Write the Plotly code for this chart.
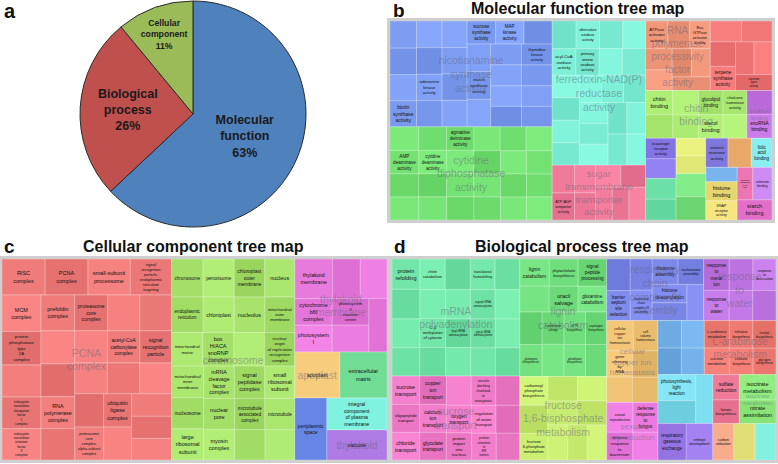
import plotly.graph_objects as go

W, H = 778, 464
FONT = "Liberation Sans, Arial, sans-serif"

# ---------------- Panel a: pie ----------------
pie_labels = ["Molecular function", "Biological process", "Cellular component"]
pie_values = [63, 26, 11]
pie_text = ["<b>Molecular<br>function<br>63%</b>", "<b>Biological<br>process<br>26%</b>",
            "<b>Cellular<br>component<br>11%</b>"]
pie_colors = ["#4f81bd", "#c0504d", "#9bbb59"]

# ---------------- Panel b: Molecular function ----------------
b_big = ["nicotianamine<br>synthase<br>activity", "cytidine<br>diphosphatase<br>activity",
         "ferredoxin-NAD(P)<br>reductase<br>activity", "sugar<br>transmembrane<br>transporter<br>activity",
         "RNA<br>polymerase<br>processivity<br>factor<br>activity", "", "chitin<br>binding",
         "snoRNA<br>binding", "", "", "", "", "", "", "", "", "", "", "", ""]
b_colors = ["#7d9df2", "#74e272", "#7ef0d8", "#f07a9a", "#f0977a", "#f07678", "#abeb72",
            "#c878e6", "#8a7aea", "#6ce0a8", "#e6ec7a", "#7ae27e", "#7c74d8", "#eeb070",
            "#80e6e8", "#7ab4ee", "#f0e07a", "#f07ab8", "#c282ea", "#f07cd8"]
b_leaf_labels = [
    ["", "", "", "biotin<br>synthase<br>activity", "", "", "adenosine<br>kinase<br>activity", "", "",
     "", "", "", "sucrose<br>synthase<br>activity", "MAP<br>kinase<br>activity", "", "",
     "starch<br>synthase<br>activity", "", "", "thymidine<br>kinase<br>activity", "", "", "", "", "", ""],
    ["", "AMP<br>deaminase<br>activity", "", "", "", "cytidine<br>deaminase<br>activity", "", "",
     "agmatine<br>deiminase<br>activity", "", "", "", "", "", "", "", "", "", "", "", "", "", "", ""],
    ["", "alternative<br>oxidase<br>activity", "", "", "acyl-CoA<br>oxidase<br>activity",
     "primary<br>amine<br>oxidase<br>activity", "", "", "", "", "", "", "", "", "", "", "", "", "", "",
     "", ""],
    ["", "ATP:ADP<br>antiporter<br>activity", "", "", "", "", "", "", ""],
    ["ATPase<br>activator<br>activity", "", "Ras<br>GTPase<br>activator<br>activity", "", "", "", "", ""],
    ["", "", "", "terpene<br>synthase<br>activity", "", "", "isocitrate<br>lyase<br>activity"],
    ["chitin<br>binding", "", "", "", "glycolipid<br>binding", "sterol<br>binding",
     "chalcone<br>isomerase<br>activity", ""],
    ["", "snoRNA<br>binding"],
    ["scavenger<br>receptor<br>activity", ""],
    ["", ""],
    ["", ""],
    ["", ""],
    ["nutrient<br>reservoir<br>activity"],
    [""],
    ["folic<br>acid<br>binding"],
    [""],
    ["histone<br>binding", "SNAP<br>receptor<br>activity"],
    ["structural<br>constituent<br>of cell<br>wall"],
    ["selenium<br>binding"],
    ["starch<br>binding"],
]
b_leaf_values = [
    [720, 700, 690, 690, 680, 680, 670, 670, 665, 660, 660, 660, 655, 655, 650, 650, 650, 645, 645,
     640, 640, 640, 635, 630, 630, 625],
    [680, 670, 665, 660, 655, 650, 645, 640, 640, 635, 630, 630, 625, 620, 620, 615, 610, 610, 605,
     600, 600, 595, 590, 590],
    [660, 650, 640, 630, 625, 620, 615, 615, 610, 610, 610, 605, 605, 600, 600, 600, 595, 595, 590,
     590, 585, 580],
    [620, 600, 580, 570, 560, 550, 550, 545, 540],
    [620, 600, 570, 560, 550, 540, 530, 515],
    [650, 630, 620, 610, 600, 590, 580],
    [660, 640, 620, 600, 590, 580, 570, 566],
    [600, 600],
    [620, 598],
    [630, 630],
    [525, 525],
    [688, 688],
    [648],
    [675],
    [600],
    [450],
    [600, 600],
    [506],
    [621],
    [700],
]

# ---------------- Panel c: Cellular component ----------------
c_big = ["PCNA<br>complex", "chromosome", "thylakoid<br>membrane", "apoplast", "", "", "", "thylakoid"]
c_colors = ["#ef7c7a", "#a8e46c", "#e87ade", "#efc474", "#70dc94", "#7090f0", "#7aecda", "#b27ee8"]
c_leaf_labels = [
    ["RISC<br>complex", "PCNA<br>complex", "small-subunit<br>processome",
     "signal<br>recognition<br>particle,<br>endoplasmic<br>reticulum<br>targeting",
     "MCM<br>complex", "protein<br>phosphatase<br>type<br>2A<br>complex", "",
     "eukaryotic<br>translation<br>elongation<br>factor<br>1<br>complex",
     "eukaryotic<br>translation<br>initiation<br>factor<br>3<br>complex",
     "prefoldin<br>complex", "proteasome<br>core<br>complex", "", "", "", "",
     "RNA<br>polymerase<br>complex", "", "", "acetyl-CoA<br>carboxylase<br>complex",
     "signal<br>recognition<br>particle", "", "", "", "",
     "proteasome<br>core<br>complex,<br>alpha-subunit<br>complex", "ubiquitin<br>ligase<br>complex",
     "", "", "", ""],
    ["chromosome", "peroxisome", "chloroplast<br>outer<br>membrane", "nucleus",
     "endoplasmic<br>reticulum", "chloroplast", "nucleolus", "mitochondrial<br>outer<br>membrane",
     "mitochondrial<br>matrix", "box<br>H/ACA<br>snoRNP<br>complex", "",
     "nuclear<br>origin<br>of replication<br>recognition<br>complex", "mitochondrial<br>inner<br>membrane",
     "nucleosome", "large<br>ribosomal<br>subunit", "mRNA<br>cleavage<br>factor<br>complex",
     "signal<br>peptidase<br>complex", "small<br>ribosomal<br>subunit", "nuclear<br>pore",
     "myosin<br>complex", "microtubule<br>associated<br>complex", "microtubule", "", ""],
    ["thylakoid<br>membrane", "", "", "cytochrome<br>b6f<br>complex", "photosystem<br>I",
     "photosystem<br>II<br>reaction<br>center", "", ""],
    ["apoplast"],
    ["extracellular<br>matrix"],
    ["periplasmic<br>space"],
    ["integral<br>component<br>of plasma<br>membrane"],
    ["vacuole"],
]
c_leaf_values = [
    [1550, 1540, 1520, 1480, 1420, 1300, 1250, 1230, 1220, 1200, 1180, 1150, 1130, 1120, 1100, 1080,
     1060, 1050, 1040, 1020, 1000, 990, 980, 960, 950, 930, 920, 900, 880, 860],
    [1200, 1180, 1160, 1140, 1120, 1100, 1080, 1060, 1050, 1040, 1030, 1020, 1010, 1000, 1000, 990,
     980, 970, 960, 950, 940, 930, 920, 900],
    [1480, 1100, 1050, 1000, 1000, 980, 980, 966],
    [2070],
    [2162],
    [1984],
    [1920],
    [1800],
]

# ---------------- Panel d: Biological process ----------------
d_big = ["mRNA<br>polyadenylation", "sucrose<br>transport", "lignin<br>catabolism",
         "fructose<br>1,6-bisphosphate<br>metabolism", "respiratory<br>chain<br>complex IV<br>assembly",
         "response<br>to<br>water", "cellular<br>copper ion<br>homeostasis", "sexual<br>reproduction", "",
         "L-arabinose<br>metabolism", "", "", "", "isocitrate<br>metabolism", "", "", ""]
d_colors = ["#72e6a8", "#ee7ac8", "#70de7c", "#c8ec70", "#7c88ea", "#c47ae6", "#eec072", "#ea7ae0",
            "#72aee8", "#ee7a72", "#7adcec", "#9c7aea", "#f07a98", "#8ce87a", "#eea282", "#ecec82",
            "#80eedc"]
d_leaf_labels = [
    ["protein<br>refolding", "", "", "", "chitin<br>catabolism", "", "translational<br>frameshifting", "",
     "", "C-5<br>methylation<br>of cytosine", "", "", "arginyl-tRNA<br>aminoacylation", "",
     "lysyl-tRNA<br>aminoacylation", "", "glycyl-tRNA<br>aminoacylation", "", "", ""],
    ["sucrose<br>transport", "oligopeptide<br>transport", "chloride<br>transport", "copper<br>ion<br>transport",
     "calcium<br>ion<br>transport", "glycolate<br>transport", "", "vesicle<br>docking<br>involved<br>in<br>exocytosis",
     "", "oxygen<br>transport", "protein<br>import<br>into<br>nucleus", "regulation<br>of anion<br>transport",
     "", "protein<br>retention<br>in<br>ER<br>lumen", ""],
    ["lignin<br>catabolism", "phytochelatin<br>biosynthesis", "signal<br>peptide<br>processing", "",
     "uracil<br>salvage", "glutamine<br>catabolism", "", "glutamine<br>biosynthesis",
     "L-methionine<br>salvage", "", "dTTP<br>biosynthesis", "asparagine<br>biosynthesis",
     "glutathione<br>biosynthesis", ""],
    ["carbamoyl<br>phosphate<br>biosynthesis", "", "fructose<br>6-phosphate<br>metabolism", "", "", "", "",
     "", "", ""],
    ["", "barrier<br>septum<br>site<br>selection", "", "respiratory<br>chain<br>complex IV<br>assembly",
     "ribosome<br>assembly", "nucleosome<br>assembly", "histone<br>deacetylation", "", ""],
    ["response<br>to<br>metal<br>ion", "response<br>to<br>water", "", "response<br>to<br>desiccation", "", ""],
    ["cellular<br>copper<br>ion<br>homeostasis", "cell<br>volume<br>homeostasis", "gene<br>silencing<br>by<br>RNA",
     "", "", ""],
    ["sexual<br>reproduction", "defense<br>response<br>to<br>fungus", "defense<br>response<br>to<br>bacterium", ""],
    ["", "", "", ""],
    ["L-arabinose<br>metabolism", "sucrose<br>metabolism", "trehalose<br>biosynthesis",
     "inositol<br>biosynthesis", "cellulose<br>biosynthesis", "glycogen<br>biosynthesis"],
    ["photosynthesis,<br>light<br>reaction", "", ""],
    ["respiratory<br>gaseous<br>exchange", "embryo<br>development"],
    ["sulfate<br>reduction", "lipoate<br>biosynthesis"],
    ["isocitrate<br>metabolism", "nitrate<br>assimilation"],
    ["carbon<br>utilization"],
    [""],
    [""],
]
d_leaf_values = [
    [860, 840, 820, 800, 790, 780, 770, 770, 760, 760, 750, 750, 740, 740, 730, 730, 720, 720, 710, 700],
    [800, 790, 780, 770, 760, 750, 740, 730, 720, 710, 700, 690, 680, 670, 640],
    [820, 800, 790, 770, 760, 750, 740, 730, 720, 716, 710, 700, 700, 690],
    [820, 800, 760, 740, 730, 720, 720, 710, 700, 690],
    [760, 720, 700, 680, 670, 660, 650, 630, 610],
    [820, 790, 760, 740, 720, 714],
    [820, 760, 700, 680, 660, 655],
    [800, 760, 740, 709],
    [660, 640, 630, 620],
    [700, 680, 660, 650, 640, 614],
    [1000, 880, 856],
    [1050, 985],
    [680, 640],
    [950, 883],
    [780],
    [780],
    [780],
]


def shade(hexcol, k):
    offs = [0, -10, 6, -4, 10, -14, 3, -7, 8]
    d = offs[k % len(offs)]
    r, g, b = (int(hexcol[i:i + 2], 16) for i in (1, 3, 5))
    clamp = lambda v: max(0, min(255, v + d))
    return "rgb(%d,%d,%d)" % (clamp(r), clamp(g), clamp(b))


def px_domain(x0, x1, y0, y1):
    return dict(x=[x0 / W, x1 / W], y=[1 - y1 / H, 1 - y0 / H])


def treemap_traces(big, colors, leaf_labels, leaf_values, domain):
    ids, parents, vals, texts, cols = ["root"], [""], [0], [""], ["rgba(0,0,0,0)"]
    k = 0
    for g, (labs, vs) in enumerate(zip(leaf_labels, leaf_values)):
        ids.append("g%d" % g); parents.append("root"); vals.append(0); texts.append("")
        cols.append(colors[g])
        for lab, v in zip(labs, vs):
            ids.append("l%d" % k); parents.append("g%d" % g); vals.append(v); texts.append(lab)
            cols.append(shade(colors[g], k))
            k += 1
    common = dict(domain=domain, branchvalues="remainder", sort=False, textinfo="text",
                  tiling=dict(packing="squarify", pad=0), pathbar=dict(visible=False),
                  hoverinfo="none", textposition="middle center")
    t1 = go.Treemap(ids=ids, labels=ids, parents=parents, values=vals, text=texts,
                    marker=dict(colors=cols, pad=dict(t=0, l=0, r=0, b=0),
                                line=dict(width=0.6, color="rgba(255,255,255,0.45)")),
                    textfont=dict(family=FONT, size=5.5, color="#111"), **common)
    totals = [sum(vs) for vs in leaf_values]
    gids = ["root"] + ["g%d" % g for g in range(len(totals))]
    t2 = go.Treemap(ids=gids, labels=gids, parents=[""] + ["root"] * len(totals),
                    values=[0] + totals, text=[""] + big,
                    marker=dict(colors=["rgba(0,0,0,0)"] * len(gids), pad=dict(t=0, l=0, r=0, b=0),
                                line=dict(width=0)),
                    textfont=dict(family=FONT, size=10.5, color="rgba(100,100,125,0.5)"), **common)
    return [t1, t2]


fig = go.Figure()
fig.add_trace(go.Pie(labels=pie_labels, values=pie_values, text=pie_text, textinfo="text",
                     sort=False, direction="clockwise", rotation=0,
                     marker=dict(colors=pie_colors, line=dict(color="#2a2a2a", width=1)),
                     textposition="inside", insidetextorientation="horizontal",
                     insidetextfont=dict(family=FONT, size=12.5, color="#1a1a1a"),
                     domain=px_domain(80, 306, 1, 227), hoverinfo="none"))

boxes = [(390, 772, 21, 220), (2, 387, 259, 460), (392, 776, 259, 460)]
for (big, cols, ll, lv), bx in zip([(b_big, b_colors, b_leaf_labels, b_leaf_values),
                                    (c_big, c_colors, c_leaf_labels, c_leaf_values),
                                    (d_big, d_colors, d_leaf_labels, d_leaf_values)], boxes):
    for t in treemap_traces(big, cols, ll, lv, px_domain(*bx)):
        fig.add_trace(t)

shapes = []
for x0, x1, y0, y1 in boxes:
    shapes.append(dict(type="rect", xref="paper", yref="paper", x0=(x0 - 1.5) / W, x1=(x1 + 1.5) / W,
                       y0=1 - (y1 + 1.5) / H, y1=1 - (y0 - 1.5) / H,
                       line=dict(color="#cfcfcf", width=3), fillcolor="rgba(0,0,0,0)"))

annots = []
def ann(text, x, y, size, anchor="center"):
    annots.append(dict(text=text, x=x / W, y=1 - y / H, xref="paper", yref="paper", showarrow=False,
                       xanchor=anchor, yanchor="middle", font=dict(family=FONT, size=size, color="#111")))

ann("<b>a</b>", 2, 11, 20, "left")
ann("<b>b</b>", 391, 10, 19, "left")
ann("<b>c</b>", 2, 246, 19, "left")
ann("<b>d</b>", 392, 246, 19, "left")
ann("<b>Molecular function tree map</b>", 578, 9, 16)
ann("<b>Cellular component tree map</b>", 193, 246, 16)
ann("<b>Biological process tree map</b>", 582, 246, 16)

fig.update_layout(width=W, height=H, margin=dict(l=0, r=0, t=0, b=0), paper_bgcolor="white",
                  plot_bgcolor="white", showlegend=False, shapes=shapes, annotations=annots,
                  font=dict(family=FONT))
fig.write_html("out.html", config={"displayModeBar": False},
               post_script="document.body.style.margin='0px';")
